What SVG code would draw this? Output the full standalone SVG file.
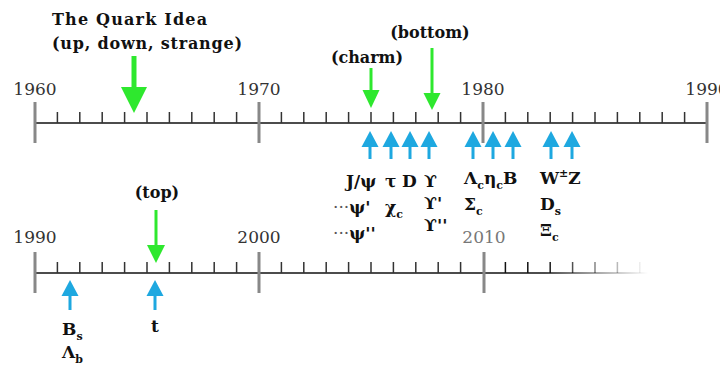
<svg xmlns="http://www.w3.org/2000/svg" width="720" height="366" viewBox="0 0 720 366">
<defs>
<style>
.yr{font-family:"DejaVu Serif","Liberation Serif",serif;font-size:17px;fill:#333;text-anchor:middle}
.lb{font-family:"DejaVu Serif","Liberation Serif",serif;font-size:16px;font-weight:bold;fill:#111}
.pt{font-family:"DejaVu Serif","Liberation Serif",serif;font-size:17px;font-weight:bold;fill:#111}
.sub{font-size:11px}
.dots{font-weight:normal;fill:#555}
.axis{stroke:#111;stroke-width:1.5;fill:none}
.major{stroke:#888;stroke-width:3}
.minor{stroke:#333;stroke-width:1.5}
.g{fill:#2ee82e;stroke:none}
.gs{stroke:#2ee82e;fill:none}
.b{fill:#1ea8e0;stroke:none}
.bs{stroke:#1ea8e0;stroke-width:3;fill:none}
</style>
<linearGradient id="fade" gradientUnits="userSpaceOnUse" x1="545" y1="0" x2="648" y2="0">
<stop offset="0" stop-color="#111" stop-opacity="1"/>
<stop offset="1" stop-color="#111" stop-opacity="0"/>
</linearGradient>
</defs>

<g id="axis-top">
<line class="axis" x1="35" y1="123" x2="707" y2="123"/>
<path class="minor" d="M57.4 112V123M79.8 112V123M102.2 112V123M124.6 112V123M147 112V123M169.4 112V123M191.8 112V123M214.2 112V123M236.6 112V123M281.4 112V123M303.8 112V123M326.2 112V123M348.6 112V123M371 112V123M393.4 112V123M415.8 112V123M438.2 112V123M460.6 112V123M505.4 112V123M527.8 112V123M550.2 112V123M572.6 112V123M595 112V123M617.4 112V123M639.8 112V123M662.2 112V123M684.6 112V123"/>
<path class="major" d="M35 102V143M259 102V143M483 102V143M707 102V143"/>
<text class="yr" x="35" y="95">1960</text>
<text class="yr" x="259" y="95">1970</text>
<text class="yr" x="483" y="95">1980</text>
<text class="yr" x="707" y="95">1990</text>
</g>

<g id="axis-bottom">
<line x1="35" y1="273" x2="484" y2="273" class="axis"/>
<line x1="484" y1="273" x2="650" y2="273" stroke="url(#fade)" stroke-width="1.5"/>
<path class="minor" d="M57.4 262V273M79.8 262V273M102.2 262V273M124.6 262V273M147 262V273M169.4 262V273M191.8 262V273M214.2 262V273M236.6 262V273M281.4 262V273M303.8 262V273M326.2 262V273M348.6 262V273M371 262V273M393.4 262V273M415.8 262V273M438.2 262V273M460.6 262V273"/>
<path stroke="url(#fade)" stroke-width="1.5" d="M505.4 262V273M527.8 262V273M550.2 262V273M572.6 262V273M595 262V273M617.4 262V273M639.8 262V273"/>
<path class="major" d="M35 252V293M259 252V293M484 252V293"/>
<text class="yr" x="35" y="243">1990</text>
<text class="yr" x="259" y="243">2000</text>
<text class="yr" x="484" y="243" style="fill:#777">2010</text>
</g>

<g id="connectors">
<line class="gs" x1="134" y1="56" x2="134" y2="90" stroke-width="5"/>
<polygon class="g" points="121,87 147,87 134,113"/>
<line class="gs" x1="371" y1="68" x2="371" y2="92" stroke-width="3"/>
<polygon class="g" points="362.5,90 379.5,90 371,108"/>
<line class="gs" x1="432" y1="48" x2="432" y2="95" stroke-width="3"/>
<polygon class="g" points="423.5,93 440.5,93 432,110"/>
<line class="gs" x1="156" y1="210" x2="156" y2="247" stroke-width="3"/>
<polygon class="g" points="147,245 165,245 156,263"/>

<g id="blue-top">
<path class="bs" d="M370 145V159M391 145V159M410 145V159M429 145V159M473 145V159M493 145V159M513 145V159M551 145V159M572 145V159"/>
<polygon class="b" points="361.5,147 378.5,147 370,131"/>
<polygon class="b" points="382.5,147 399.5,147 391,131"/>
<polygon class="b" points="401.5,147 418.5,147 410,131"/>
<polygon class="b" points="420.5,147 437.5,147 429,131"/>
<polygon class="b" points="464.5,147 481.5,147 473,131"/>
<polygon class="b" points="484.5,147 501.5,147 493,131"/>
<polygon class="b" points="504.5,147 521.5,147 513,131"/>
<polygon class="b" points="542.5,147 559.5,147 551,131"/>
<polygon class="b" points="563.5,147 580.5,147 572,131"/>
</g>
<g id="blue-bottom">
<path class="bs" d="M70 294V310M155 294V310"/>
<polygon class="b" points="61.5,296 78.5,296 70,280"/>
<polygon class="b" points="146.5,296 163.5,296 155,280"/>
</g>
</g>

<g id="quark-idea">
<text class="lb" x="52" y="25" textLength="155" lengthAdjust="spacing">The Quark Idea</text>
<text class="lb" x="52" y="49" textLength="190" lengthAdjust="spacing">(up, down, strange)</text>
</g>
<g id="charm"><text class="lb" x="367" y="63" text-anchor="middle">(charm)</text></g>
<g id="bottom"><text class="lb" x="430" y="38" text-anchor="middle">(bottom)</text></g>
<g id="top"><text class="lb" x="157" y="198" text-anchor="middle">(top)</text></g>

<g id="particles-1974">
<text class="pt" x="346" y="187">J/ψ</text>
<text class="pt" x="333" y="213"><tspan class="dots">···</tspan>ψ'</text>
<text class="pt" x="333" y="239"><tspan class="dots">···</tspan>ψ''</text>
</g>
<g id="particles-1975">
<text class="pt" x="385" y="187">τ</text>
<text class="pt" x="385" y="213">χ<tspan class="sub" dy="5">c</tspan></text>
</g>
<g id="particles-1976"><text class="pt" x="402" y="187">D</text></g>
<g id="particles-1977">
<text class="pt" x="424" y="187">ϒ</text>
<text class="pt" x="424" y="209">ϒ'</text>
<text class="pt" x="424" y="231">ϒ''</text>
</g>
<g id="particles-1979">
<text class="pt" x="464" y="184">Λ<tspan class="sub" dy="5">c</tspan><tspan dy="-5">η</tspan><tspan class="sub" dy="5">c</tspan><tspan dy="-5">B</tspan></text>
<text class="pt" x="464" y="210">Σ<tspan class="sub" dy="5">c</tspan></text>
</g>
<g id="particles-1983">
<text class="pt" x="540" y="184">W<tspan class="sub" dy="-7">±</tspan><tspan dy="7">Z</tspan></text>
<text class="pt" x="540" y="210">D<tspan class="sub" dy="5">s</tspan></text>
<text class="pt" x="540" y="236">Ξ<tspan class="sub" dy="5">c</tspan></text>
</g>
<g id="particles-1992">
<text class="pt" x="62" y="335">B<tspan class="sub" dy="5">s</tspan></text>
<text class="pt" x="62" y="358">Λ<tspan class="sub" dy="5">b</tspan></text>
</g>
<g id="particles-1995"><text class="pt" x="155" y="332" text-anchor="middle">t</text></g>
</svg>
